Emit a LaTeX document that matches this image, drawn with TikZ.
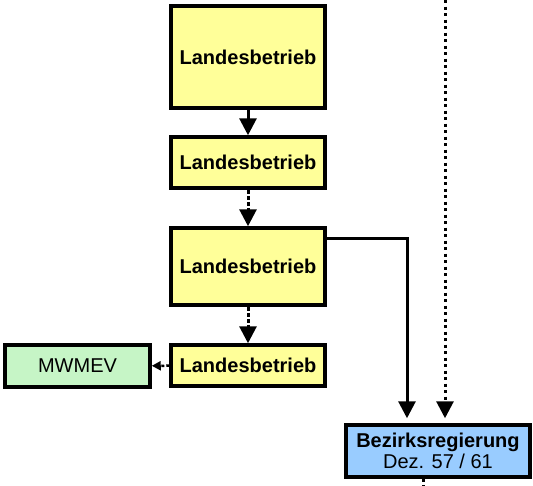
\documentclass[tikz,border=0pt]{standalone}
\usepackage{fontspec}
\setmainfont{Liberation Sans}
\usetikzlibrary{arrows.meta}
\definecolor{lb-yellow}{HTML}{FFFF99}
\definecolor{mw-green}{HTML}{C6F5C6}
\definecolor{br-blue}{HTML}{99CCFF}
\tikzset{
    lb-box/.style = {draw=black, fill=lb-yellow, line width=3.5pt, rectangle, minimum width=154pt, inner sep=0pt, font=\fontsize{20}{24}\selectfont\bfseries},
    mw-box/.style = {draw=black, fill=mw-green, line width=3.5pt, rectangle, minimum width=145pt, minimum height=42pt, inner sep=0pt, font=\fontsize{20}{24}\selectfont},
    br-box/.style = {draw=black, fill=br-blue, line width=3.5pt, rectangle, minimum width=184pt, minimum height=52pt, inner sep=0pt, align=center, font=\fontsize{20}{24}\selectfont},
    big-arrow/.style = {line width=3pt, -{Triangle[width=17pt, length=17pt]}},
    small-arrow/.style = {line width=2.5pt, dash pattern=on 3pt off 2pt, -{Triangle[width=9pt, length=9pt]}},
}

\begin{document}
\begin{tikzpicture}[x=1pt, y=-1pt]
\useasboundingbox (0,0) rectangle (533,485);
\node [lb-box, minimum height=102pt] (lb-a) at (248,57) {Landesbetrieb};
\node [lb-box, minimum height=51pt] (lb-b) at (248,162.5) {Landesbetrieb};
\node [lb-box, minimum height=77pt] (lb-c) at (248,266.5) {Landesbetrieb};
\node [lb-box, minimum height=41pt] (lb-d) at (248,365.5) {Landesbetrieb};
\node [mw-box] (mwmev) at (77.5,366) {MWMEV};
\node [br-box] (bezreg) at (438,451) {\textbf{Bezirksregierung}\\[-3pt]Dez. 57 / 61};
\coordinate (top-in) at (445,0);
\coordinate (bottom-out) at (423,485);

\draw [big-arrow] (lb-a) -- (lb-b);
\draw [big-arrow, dash pattern=on 4pt off 2pt] (lb-b) -- (lb-c);
\draw [big-arrow, dash pattern=on 4pt off 2pt] (lb-c) -- (lb-d);
\draw [small-arrow] (lb-d) -- (mwmev);
\draw [big-arrow, shorten >=5pt] ([yshift=-12pt]lb-c.north east) -| ([xshift=-31pt]bezreg.north);
\draw [big-arrow, dash pattern=on 3pt off 3.5pt, shorten >=5pt] (top-in) -- (top-in |- bezreg.north);
\draw [line width=3pt, dash pattern=on 3pt off 3pt] (bottom-out |- bezreg.south) -- (bottom-out);
\end{tikzpicture}
\end{document}
